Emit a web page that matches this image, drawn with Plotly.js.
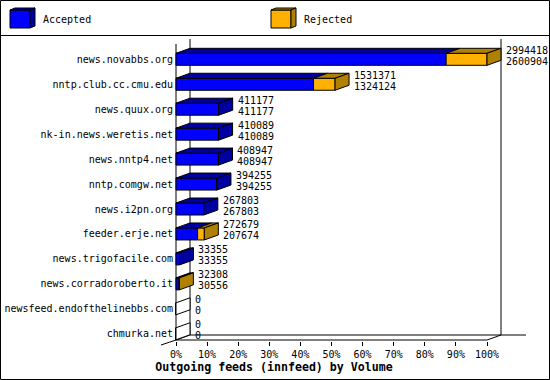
<!DOCTYPE html>
<html><head><meta charset="utf-8">
<script src="https://cdn.plot.ly/plotly-3.0.1.min.js"></script>
<style>html,body{margin:0;padding:0;background:#fff}#chart{width:550px;height:380px}</style>
</head><body><div id="chart"></div>
<script>
const categories = ["news.novabbs.org","nntp.club.cc.cmu.edu","news.quux.org","nk-in.news.weretis.net","news.nntp4.net","nntp.comgw.net","news.i2pn.org","feeder.erje.net","news.trigofacile.com","news.corradoroberto.it","newsfeed.endofthelinebbs.com","chmurka.net"];
const totals   = [2994418,1531371,411177,410089,408947,394255,267803,272679,33355,32308,0,0];
const accepted = [2600904,1324124,411177,410089,408947,394255,267803,207674,33355,30556,0,0];
const seriesNames = ["Accepted","Rejected"];
const xTickVals = [0,10,20,30,40,50,60,70,80,90,100];
const xTickText = ["0%","10%","20%","30%","40%","50%","60%","70%","80%","90%","100%"];
const titleText = "Outgoing feeds (innfeed) by Volume";

const rejected = totals.map((t,i)=>t-accepted[i]);
const W=550,H=380,ML=174,MR=2,MT=36,MB=39;
const PXP=3.11, PXR=24.95, ROW0=59.3;
const DX=14/PXP, DY=5/PXR, HB=6/PXR;
const maxTotal=Math.max(...totals);
const pct=v=>v/maxTotal*100;
const x0=-(176-ML)/PXP, x1=x0+(W-ML-MR)/PXP;
const yTop=(MT-ROW0)/PXR, yBot=(H-MB-ROW0)/PXR;
const FT=(44-ROW0)/PXR, FB=(340-ROW0)/PXR;
const PX=px=>(px-ML)/(W-ML-MR), PY=py=>(H-MB-py)/(H-MT-MB);
const FONT="DejaVu Sans Mono";
const C={blue:"#0000FF",blueD:"#0000A0",org:"#FFB000",orgD:"#B08000"};

const idx=categories.map((c,i)=>i);
const aP=accepted.map(pct), tP=totals.map(pct), rP=rejected.map(pct);

function polyTrace(color){return {type:"scatter",mode:"lines",fill:"toself",fillcolor:color,line:{color:"#000",width:1},x:[],y:[],hoverinfo:"skip",showlegend:false};}
const topB=polyTrace(C.blueD), topO=polyTrace(C.orgD), sideB=polyTrace(C.blueD), sideO=polyTrace(C.orgD), sideE=polyTrace("#fff");
function addPoly(tr,pts){pts.forEach(p=>{tr.x.push(p[0]);tr.y.push(p[1]);});tr.x.push(pts[0][0]);tr.y.push(pts[0][1]);tr.x.push(null);tr.y.push(null);}
idx.forEach(i=>{
  const a=aP[i], t=tP[i], yt=i-HB, yb=i+HB;
  if(a>0) addPoly(topB,[[0,yt],[DX,yt-DY],[a+DX,yt-DY],[a,yt]]);
  if(rP[i]>0) addPoly(topO,[[a,yt],[a+DX,yt-DY],[t+DX,yt-DY],[t,yt]]);
  const side=[[t,yt],[t+DX,yt-DY],[t+DX,yb-DY],[t,yb]];
  if(rP[i]>0) addPoly(sideO,side); else if(a>0) addPoly(sideB,side); else addPoly(sideE,side);
});

const barA={type:"bar",orientation:"h",name:seriesNames[0],y:idx,x:aP,width:2*HB,marker:{color:C.blue,line:{color:"#000",width:1}},hoverinfo:"skip"};
const barR={type:"bar",orientation:"h",name:seriesNames[1],y:idx,x:rP,base:aP,width:2*HB,marker:{color:C.org,line:{color:"#000",width:1}},hoverinfo:"skip"};

const L=(xa,ya,xb,yb)=>({type:"line",xref:"x",yref:"y",x0:xa,y0:ya,x1:xb,y1:yb,layer:"below",line:{color:"#000",width:1}});
const shapes=[
  L(0,FT,0,FB), L(0,FB,100,FB), L(DX,FT-DY,DX,FB-DY), L(100+DX,FT-DY,100+DX,FB-DY),
  L(DX,FB-DY,(526-176)/PXP,FB-DY), L(0,FB,DX,FB-DY), L(100,FB,100+DX,FB-DY),
  {type:"line",xref:"paper",yref:"paper",x0:PX(161),y0:PY(345),x1:PX(176),y1:PY(340),line:{color:"#000",width:1}},
  {type:"rect",xref:"paper",yref:"paper",x0:PX(0.5),y0:PY(0.5),x1:PX(549.5),y1:PY(379.5),line:{color:"#000",width:1}},
  {type:"line",xref:"paper",yref:"paper",x0:PX(0),y0:PY(35.5),x1:PX(550),y1:PY(35.5),line:{color:"#000",width:1}}
];
function cube(x,front,dark){
  const p=(pts)=>"M"+pts.map(q=>PX(q[0])+","+PY(q[1])).join(" L")+" Z";
  shapes.push({type:"path",xref:"paper",yref:"paper",path:p([[x,10],[x+20,10],[x+20,28],[x,28]]),fillcolor:front,line:{color:"#000",width:1}});
  shapes.push({type:"path",xref:"paper",yref:"paper",path:p([[x,10],[x+5,8],[x+25,8],[x+20,10]]),fillcolor:dark,line:{color:"#000",width:1}});
  shapes.push({type:"path",xref:"paper",yref:"paper",path:p([[x+20,10],[x+25,8],[x+25,26],[x+20,28]]),fillcolor:dark,line:{color:"#000",width:1}});
}
cube(10,C.blue,C.blueD); cube(271,C.org,C.orgD);

const annotations=[
  {xref:"paper",yref:"paper",x:PX(41),y:PY(20),text:seriesNames[0],showarrow:false,xanchor:"left",yanchor:"middle"},
  {xref:"paper",yref:"paper",x:PX(302),y:PY(20),text:seriesNames[1],showarrow:false,xanchor:"left",yanchor:"middle"}
];
idx.forEach(i=>{
  annotations.push({xref:"x",yref:"y",x:tP[i]+DX,y:i-9/PXR,xshift:3,text:String(totals[i]),showarrow:false,xanchor:"left",yanchor:"middle"});
  annotations.push({xref:"x",yref:"y",x:tP[i]+DX,y:i+2/PXR,xshift:3,text:String(accepted[i]),showarrow:false,xanchor:"left",yanchor:"middle"});
});

const layout={
  width:W,height:H,margin:{l:ML,r:MR,t:MT,b:MB,pad:0},
  paper_bgcolor:"#fff",plot_bgcolor:"#fff",
  font:{family:FONT,size:10,color:"#000"},
  barmode:"overlay",showlegend:false,
  title:{text:"<b>"+titleText+"</b>",font:{family:FONT,size:11.6,color:"#000"},x:274/W,xref:"container",xanchor:"center",y:1-367/H,yref:"container",yanchor:"middle"},
  xaxis:{range:[x0,x1],tickvals:xTickVals,ticktext:xTickText,ticks:"outside",ticklen:4,tickcolor:"#000",showline:false,showgrid:false,zeroline:false,fixedrange:true},
  yaxis:{range:[yBot,yTop],tickvals:idx,ticktext:categories,ticks:"",showline:false,showgrid:false,zeroline:false,fixedrange:true,ticklabelstandoff:0},
  shapes:shapes,annotations:annotations
};
Plotly.newPlot("chart",[barA,barR,topB,topO,sideB,sideO,sideE],layout,{staticPlot:true,displayModeBar:false});
</script></body></html>
